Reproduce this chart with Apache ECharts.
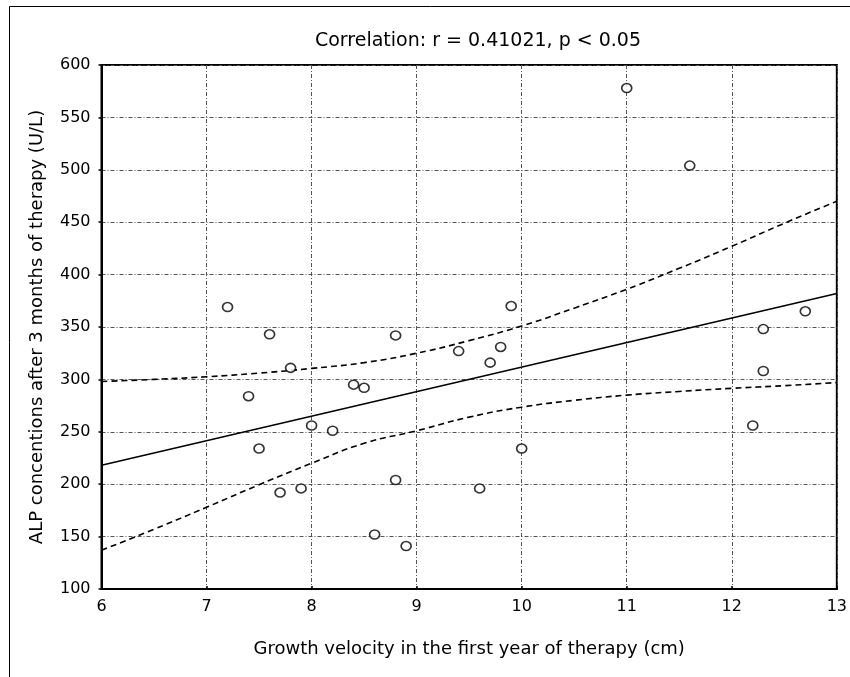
<!DOCTYPE html>
<html>
<head>
<meta charset="utf-8">
<script src="https://cdn.jsdelivr.net/npm/echarts@6/dist/echarts.min.js"></script>
<style>html,body{margin:0;padding:0;background:#fff}#c{width:850px;height:677px}</style>
</head>
<body>
<div id="c"></div>
<script>
// Scatter data: growth velocity (cm) vs ALP (U/L)
var growthVelocity = [7.2, 7.6, 8.8, 9.4, 7.8, 8.4, 8.5, 7.4, 8.0, 8.2, 7.5, 8.8, 7.9, 7.7, 8.6, 8.9, 9.9, 9.8, 9.7, 12.3, 12.7, 12.3, 12.2, 10.0, 9.6, 11.0, 11.6];
var alpValues      = [369, 343, 342, 327, 311, 295, 292, 284, 256, 251, 234, 204, 196, 192, 152, 141, 370, 331, 316, 348, 365, 308, 256, 234, 196, 578, 504];

// Regression line
var fitX = [6, 13];
var fitY = [218, 382];

// Confidence band
var bandX     = [6, 6.5, 7, 7.5, 8, 8.5, 9, 9.5, 10, 10.5, 11, 11.5, 12, 12.5, 13];
var bandUpper = [298, 300, 302.5, 306, 310.5, 316, 325, 337, 351, 368, 386, 406, 427, 449, 470];
var bandLower = [137, 157, 178, 199.5, 220, 239, 251, 264, 273.5, 280, 285, 288.5, 291.5, 294, 297];

var titleText = 'Correlation: r = 0.41021, p < 0.05';
var xName = 'Growth velocity in the first year of therapy (cm)';
var yName = 'ALP concentions after 3 months of therapy (U/L)';

function zip(a, b) { return a.map(function (v, i) { return [v, b[i]]; }); }

var FONT = '"DejaVu Sans", "Liberation Sans", Arial, sans-serif';
var chart = echarts.init(document.getElementById('c'), null, { renderer: 'canvas' });
chart.setOption({
  animation: false,
  backgroundColor: '#fff',
  title: {
    text: titleText, left: 473, top: 27, textAlign: 'center',
    textStyle: { fontFamily: FONT, fontSize: 19, fontWeight: 'normal', color: '#000' }
  },
  graphic: [{
    type: 'rect', shape: { x: 9.5, y: 6.5, width: 900, height: 700 },
    style: { fill: 'none', stroke: '#000', lineWidth: 1 }, silent: true, z: -1
  }],
  grid: { left: 101.5, right: 5, top: 65, bottom: 88, show: true, borderColor: '#000', borderWidth: 2, backgroundColor: 'transparent' },
  xAxis: {
    type: 'value', min: 6, max: 13, interval: 1,
    name: xName, nameLocation: 'middle', nameGap: 51,
    nameTextStyle: { fontFamily: FONT, fontSize: 18, color: '#000' },
    axisLine: { show: true, lineStyle: { color: '#000', width: 2 } },
    axisTick: { show: true, inside: true, length: 3, lineStyle: { color: '#000', width: 1.5 } },
    axisLabel: { fontFamily: FONT, fontSize: 16, color: '#000', margin: 10 },
    splitLine: { show: true, lineStyle: { color: '#555', width: 1, type: [4, 2, 1, 2] } }
  },
  yAxis: {
    type: 'value', min: 100, max: 600, interval: 50,
    name: yName, nameLocation: 'middle', nameGap: 55,
    nameTextStyle: { fontFamily: FONT, fontSize: 18, color: '#000' },
    axisLine: { show: true, lineStyle: { color: '#000', width: 2 } },
    axisTick: { show: true, length: 3, lineStyle: { color: '#000', width: 1.5 } },
    axisLabel: { fontFamily: FONT, fontSize: 16, color: '#000', margin: 11 },
    splitLine: { show: true, lineStyle: { color: '#555', width: 1, type: [4, 2, 1, 2] } }
  },
  series: [
    { type: 'line', data: zip(bandX, bandUpper), symbol: 'none', smooth: true,
      lineStyle: { color: '#000', width: 1.6, type: [6, 4] }, z: 3 },
    { type: 'line', data: zip(bandX, bandLower), symbol: 'none', smooth: true,
      lineStyle: { color: '#000', width: 1.6, type: [6, 4] }, z: 3 },
    { type: 'line', data: zip(fitX, fitY), symbol: 'none',
      lineStyle: { color: '#000', width: 1.6 }, z: 3 },
    { type: 'scatter', data: zip(growthVelocity, alpValues), symbol: 'circle', symbolSize: [10, 9],
      itemStyle: { color: '#fff', borderColor: '#000', borderWidth: 1.6 }, z: 5 }
  ]
});
</script>
</body>
</html>
